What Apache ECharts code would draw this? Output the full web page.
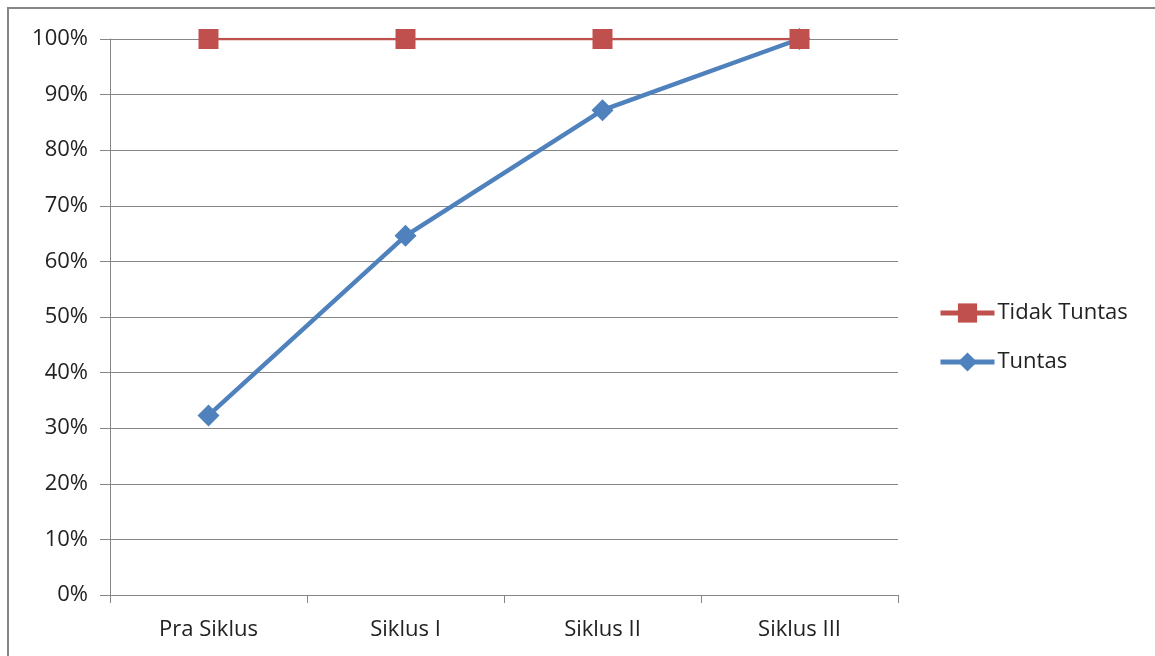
<!DOCTYPE html>
<html>
<head>
<meta charset="utf-8">
<script src="https://cdn.jsdelivr.net/npm/echarts@6/dist/echarts.min.js"></script>
<style>
  html, body { margin: 0; padding: 0; background: #fff; }
  #chart { width: 1155px; height: 656px; }
</style>
</head>
<body>
<div id="chart"></div>
<script>
// data
var categories = ['Pra Siklus', 'Siklus I', 'Siklus II', 'Siklus III'];
var tidakTuntas = [100, 100, 100, 100];
var tuntas = [32.3, 64.6, 87.2, 100];

var chart = echarts.init(document.getElementById('chart'));
var font = '"Open Sans", "Noto Sans", sans-serif';
var gray = '#868686';

chart.setOption({
    animation: false,
    backgroundColor: '#fff',
    textStyle: { fontFamily: font },
    graphic: [{
        type: 'rect',
        shape: { x: 8, y: 8, width: 1200, height: 700 },
        style: { fill: 'none', stroke: gray, lineWidth: 2 },
        silent: true
    }],
    grid: { left: 110, right: 257, top: 39, bottom: 61 },
    legend: {
        orient: 'vertical',
        left: 938,
        top: 302,
        padding: 0,
        itemWidth: 54,
        itemHeight: 24,
        itemGap: 27,
        lineStyle: { width: 5 },
        data: ['Tidak Tuntas', 'Tuntas'],
        textStyle: { fontSize: 22, color: '#222', fontFamily: font, padding: [0, 0, 0, -2] }
    },
    xAxis: {
        type: 'category',
        data: categories,
        boundaryGap: true,
        axisLine: { lineStyle: { color: gray, width: 1 } },
        axisTick: { show: true, length: 8, lineStyle: { color: gray } },
        axisLabel: { fontSize: 22, color: '#222', margin: 24 }
    },
    yAxis: {
        type: 'value',
        min: 0,
        max: 100,
        interval: 10,
        axisLine: { show: true, lineStyle: { color: gray, width: 1 } },
        axisTick: { show: true, inside: false, length: 10, lineStyle: { color: gray, width: 1 } },
        axisLabel: { fontSize: 22, color: '#222', margin: 22, formatter: '{value}%' },
        splitLine: { lineStyle: { color: gray, width: 1 } }
    },
    series: [
        {
            name: 'Tuntas',
            type: 'line',
            data: tuntas,
            symbol: 'diamond',
            symbolSize: 22,
            lineStyle: { color: '#4F81BD', width: 4.5 },
            itemStyle: { color: '#4F81BD' },
            z: 2
        },
        {
            name: 'Tidak Tuntas',
            type: 'line',
            data: tidakTuntas,
            symbol: 'rect',
            symbolSize: 20,
            lineStyle: { color: '#C0504D', width: 2.5 },
            itemStyle: { color: '#C0504D' },
            z: 3
        }
    ]
});
</script>
</body>
</html>
